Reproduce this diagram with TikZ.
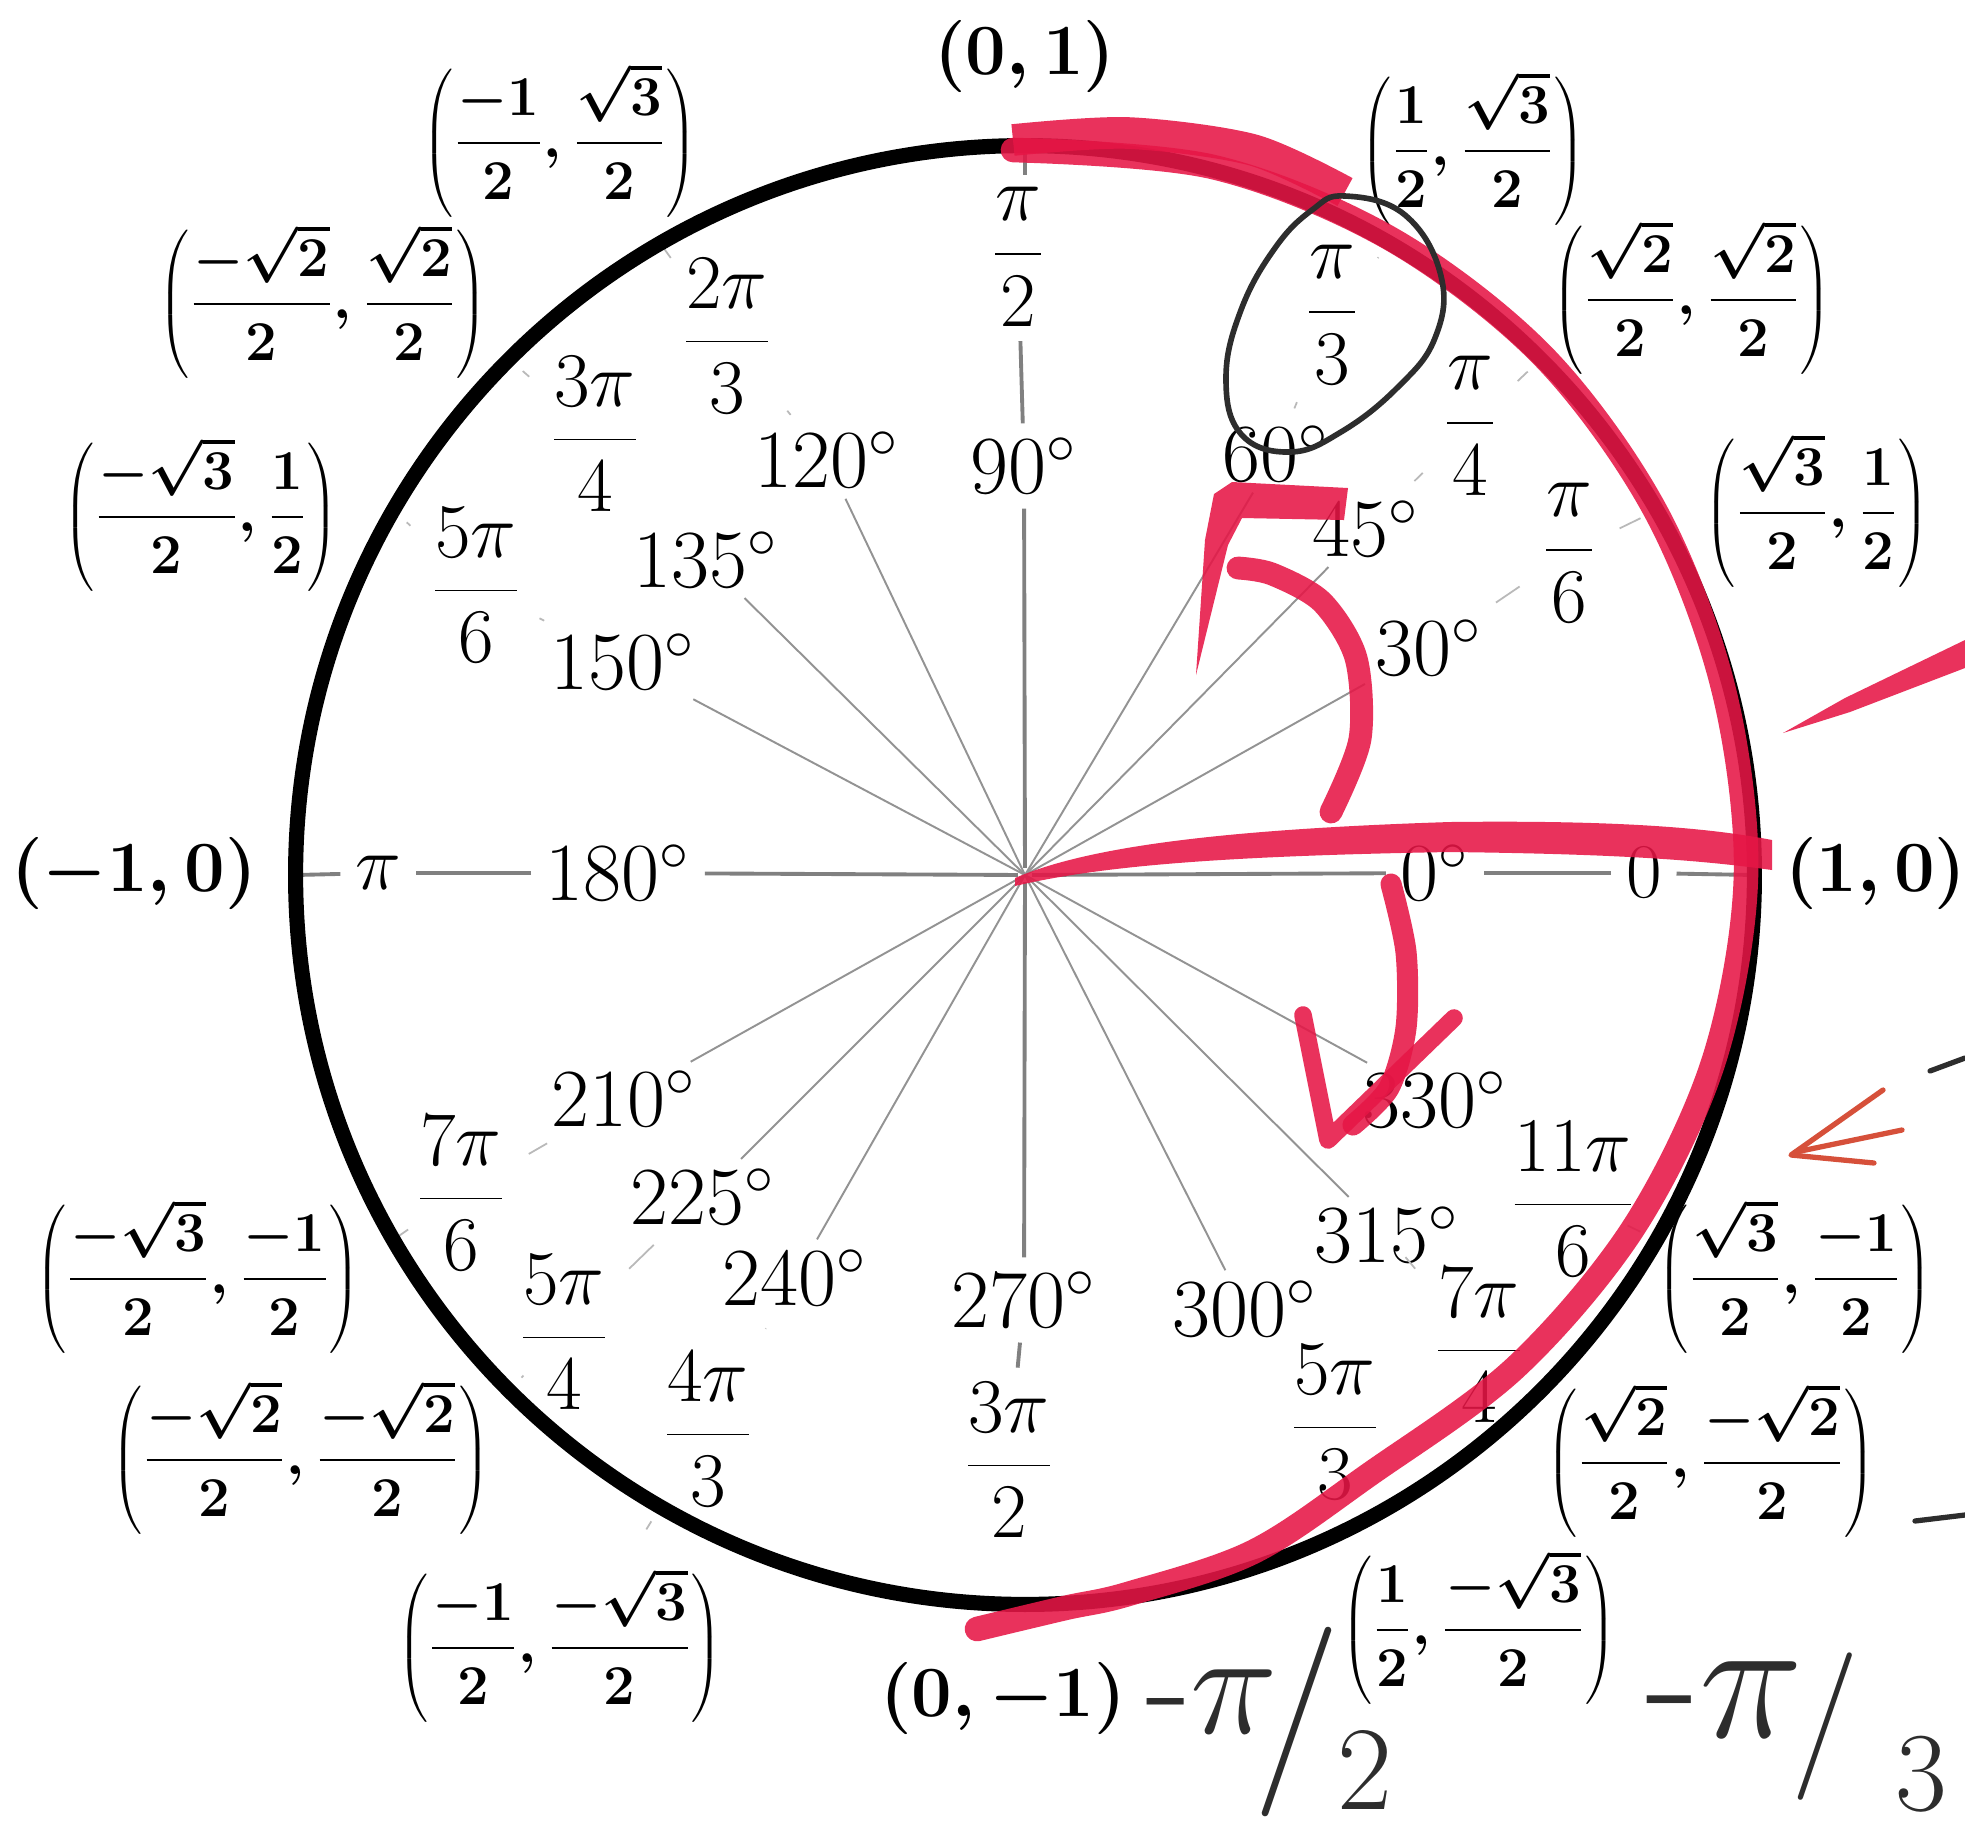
\RequirePackage{fix-cm}
\documentclass[tikz,border=0pt]{standalone}
\usetikzlibrary{calc}
\definecolor{hl}{RGB}{230,22,70}
\definecolor{pen}{RGB}{214,80,58}
\definecolor{ink}{RGB}{45,45,45}
\definecolor{axg}{RGB}{128,128,128}
\begin{document}
\begin{tikzpicture}[x=0.01cm,y=-0.01cm,
  deg/.style={font=\fontsize{23.5}{28}\selectfont, inner sep=2pt},
  rad/.style={font=\fontsize{22}{26}\selectfont, inner sep=2pt},
  crd/.style={font=\fontsize{16}{19}\selectfont\boldmath, inner sep=1pt},
  axpt/.style={font=\fontsize{20.5}{24}\selectfont\boldmath, inner sep=1pt},
  axisline/.style={draw=axg, line width=1.1pt, shorten <=2pt, shorten >=2pt},
  ray/.style={draw=gray!85, line width=0.55pt, shorten >=1pt},
  tickl/.style={draw=gray!55, line width=0.5pt, shorten <=5pt, shorten >=5pt},
  hlstroke/.style={draw=hl, line width=#1, line cap=round, line join=round, opacity=0.88},
  hlstroke/.default=7pt,
  hlfill/.style={fill=hl, opacity=0.88},
  hand/.style={text=ink, inner sep=0pt}
]
\useasboundingbox (0,0) rectangle (1965,1829);
\fill[white] (0,0) rectangle (1965,1829);

\coordinate (O) at (1025,875);
\foreach \a in {0,30,45,60,90,120,135,150,180,210,225,240,270,300,315,330}
  \coordinate (P\a) at ($(O)+(-\a:729)$);
\coordinate (T90) at (1025,182);

% degree labels
\node[deg] (d0) at (1435,873) {$0^{\circ}$};
\node[deg] (d30) at (1429,648) {$30^{\circ}$};
\node[deg] (d45) at (1366,529) {$45^{\circ}$};
\node[deg] (d60) at (1276,454) {$60^{\circ}$};
\node[deg] (d90) at (1024,466) {$90^{\circ}$};
\node[deg] (d120) at (827,460) {$120^{\circ}$};
\node[deg] (d135) at (706,560) {$135^{\circ}$};
\node[deg] (d150) at (623,662) {$150^{\circ}$};
\node[deg] (d180) at (618,873) {$180^{\circ}$};
\node[deg] (d210) at (624,1099) {$210^{\circ}$};
\node[deg] (d225) at (703,1197) {$225^{\circ}$};
\node[deg] (d240) at (795,1278) {$240^{\circ}$};
\node[deg] (d270) at (1024,1300) {$270^{\circ}$};
\node[deg] (d300) at (1245,1309) {$300^{\circ}$};
\node[deg] (d315) at (1387,1235) {$315^{\circ}$};
\node[deg] (d330) at (1435,1100) {$330^{\circ}$};

% radian labels
\node[rad] (r0) at (1644,873) {$0$};
\node[rad] (r30) at (1569,553) {$\displaystyle\frac{\pi}{6}$};
\node[rad] (r45) at (1470,426) {$\displaystyle\frac{\pi}{4}$};
\node[rad] (r60) at (1332,315) {$\displaystyle\frac{\pi}{3}$};
\node[rad] (r90) at (1018,257) {$\displaystyle\frac{\pi}{2}$};
\node[rad] (r120) at (727,336) {$\displaystyle\frac{2\pi}{3}$};
\node[rad] (r135) at (595,434) {$\displaystyle\frac{3\pi}{4}$};
\node[rad] (r150) at (476,585) {$\displaystyle\frac{5\pi}{6}$};
\node[rad] (r180) at (378,873) {$\pi$};
\node[rad] (r210) at (461,1193) {$\displaystyle\frac{7\pi}{6}$};
\node[rad] (r225) at (564,1332) {$\displaystyle\frac{5\pi}{4}$};
\node[rad] (r240) at (708,1429) {$\displaystyle\frac{4\pi}{3}$};
\node[rad] (r270) at (1009,1460) {$\displaystyle\frac{3\pi}{2}$};
\node[rad] (r300) at (1335,1422) {$\displaystyle\frac{5\pi}{3}$};
\node[rad] (r315) at (1479,1345) {$\displaystyle\frac{7\pi}{4}$};
\node[rad] (r330) at (1573,1199) {$\displaystyle\frac{11\pi}{6}$};

% coordinate labels
\node[axpt] (c0) at (1876,873) {$(1,0)$};
\node[crd] (c30) at (1817,510) {$\displaystyle\left(\frac{\sqrt{3}}{2},\frac{1}{2}\right)$};
\node[crd] (c45) at (1692,297) {$\displaystyle\left(\frac{\sqrt{2}}{2},\frac{\sqrt{2}}{2}\right)$};
\node[crd] (c60) at (1473,148) {$\displaystyle\left(\frac{1}{2},\frac{\sqrt{3}}{2}\right)$};
\node[axpt] (c90) at (1025,56) {$(0,1)$};
\node[crd] (c120) at (560,140) {$\displaystyle\left(\frac{-1}{2},\frac{\sqrt{3}}{2}\right)$};
\node[crd] (c135) at (323,301) {$\displaystyle\left(\frac{-\sqrt{2}}{2},\frac{\sqrt{2}}{2}\right)$};
\node[crd] (c150) at (201,514) {$\displaystyle\left(\frac{-\sqrt{3}}{2},\frac{1}{2}\right)$};
\node[axpt] (c180) at (134,873) {$(-1,0)$};
\node[crd] (c210) at (198,1276) {$\displaystyle\left(\frac{-\sqrt{3}}{2},\frac{-1}{2}\right)$};
\node[crd] (c225) at (301,1457) {$\displaystyle\left(\frac{-\sqrt{2}}{2},\frac{-\sqrt{2}}{2}\right)$};
\node[crd] (c240) at (560,1645) {$\displaystyle\left(\frac{-1}{2},\frac{-\sqrt{3}}{2}\right)$};
\node[axpt] (c270) at (1003,1698) {$(0,-1)$};
\node[crd] (c300) at (1479,1627) {$\displaystyle\left(\frac{1}{2},\frac{-\sqrt{3}}{2}\right)$};
\node[crd] (c315) at (1711,1460) {$\displaystyle\left(\frac{\sqrt{2}}{2},\frac{-\sqrt{2}}{2}\right)$};
\node[crd] (c330) at (1795,1276) {$\displaystyle\left(\frac{\sqrt{3}}{2},\frac{-1}{2}\right)$};

% axes
\draw[axisline] (O) -- (d0);
\draw[axisline] (d0) -- (r0);
\draw[axisline] (r0) -- (P0);
\draw[axisline] (O) -- (d180);
\draw[axisline] (d180) -- (r180);
\draw[axisline] (r180) -- (P180);
\draw[axisline] (O) -- (d90);
\draw[axisline] (d90) -- (r90);
\draw[axisline] (P90) -- (T90);
\draw[axisline] (O) -- (d270);
\draw[axisline] (d270) -- (r270);

% rays
\foreach \a in {30,45,60,120,135,150,210,225,240,300,315,330}
  \draw[ray] (O) -- (d\a);
% faint ticks
\foreach \a in {30,45,60,120,150,210,225,240,315}
  \draw[tickl] (d\a) -- (r\a);
\foreach \a in {30,45,60,120,135,150,210,225,240,330}
  \draw[tickl] (r\a) -- (P\a);

% unit circle
\draw[line width=4.3pt] (O) circle (7.29cm);

% red highlighter marks
\draw[hlstroke=7pt] plot[smooth, tension=0.55] coordinates {(1013,150) (1213,167) (1391,239) (1543,356) (1655,510) (1723,687) (1746,875) (1714,1060) (1634,1227) (1516,1367) (1370,1474) (1253,1552) (1128,1594) (1065,1608) (977,1629)};
\draw[hlstroke=9pt, line cap=butt] plot[smooth] coordinates {(1013,140) (1128,133) (1253,150) (1345,192)};
\fill[hlfill] (1015,878) .. controls (1080,850) and (1200,830) .. (1450,822) .. controls (1620,820) and (1710,828) .. (1772,840) -- (1772,870) .. controls (1700,860) and (1620,854) .. (1450,852) .. controls (1220,856) and (1100,866) .. (1015,886) -- cycle;
\draw[hlstroke=6.5pt] plot[smooth] coordinates {(1331,812) (1360,739) (1356,658) (1322,602) (1272,574) (1238,568)};
\fill[hlfill] (1196,675) -- (1205,540) -- (1214,494) -- (1232,482) -- (1348,488) -- (1344,520) -- (1242,518) -- (1228,545) -- cycle;
\draw[hlstroke=6pt] plot[smooth] coordinates {(1391,884) (1406,952) (1406,1028) (1389,1088) (1353,1125)};
\draw[hlstroke=5pt] (1303,1015) -- (1328,1140) -- (1454,1018);
\fill[hlfill] (1783,733) -- (1845,698) -- (1965,640) -- (1965,668) -- (1850,712) -- cycle;

% thin orange arrow
\draw[pen, line width=1.5pt, line cap=round, line join=round] (1883,1090) -- (1791,1155) -- (1874,1163);
\draw[pen, line width=1.5pt, line cap=round] (1902,1130) -- (1796,1152);

% black pen marks
\draw[ink, line width=1.6pt] plot[smooth cycle, tension=0.7] coordinates {(1345,196) (1405,215) (1441,276) (1435,338) (1397,388) (1341,432) (1290,452) (1241,434) (1226,378) (1241,310) (1275,248) (1312,210)};
\draw[ink, line width=1.5pt, line cap=round] (1930,1071) -- (1965,1058);
\draw[ink, line width=1.5pt, line cap=round] (1915,1521) -- (1965,1515);

% handwritten values
\node[hand, font=\fontsize{42}{46}\selectfont] (h1) at (1212,1702) {-$\pi$};
\node[hand, font=\fontsize{54}{58}\selectfont] (h2) at (1297,1722) {/};
\node[hand, font=\fontsize{34}{38}\selectfont] (h3) at (1365,1770) {2};
\node[hand, font=\fontsize{50}{54}\selectfont] (h4) at (1725,1700) {-$\pi$};
\node[hand, font=\fontsize{42}{46}\selectfont] (h5) at (1825,1727) {/};
\node[hand, font=\fontsize{32}{36}\selectfont] (h6) at (1921,1774) {3};
\end{tikzpicture}
\end{document}
